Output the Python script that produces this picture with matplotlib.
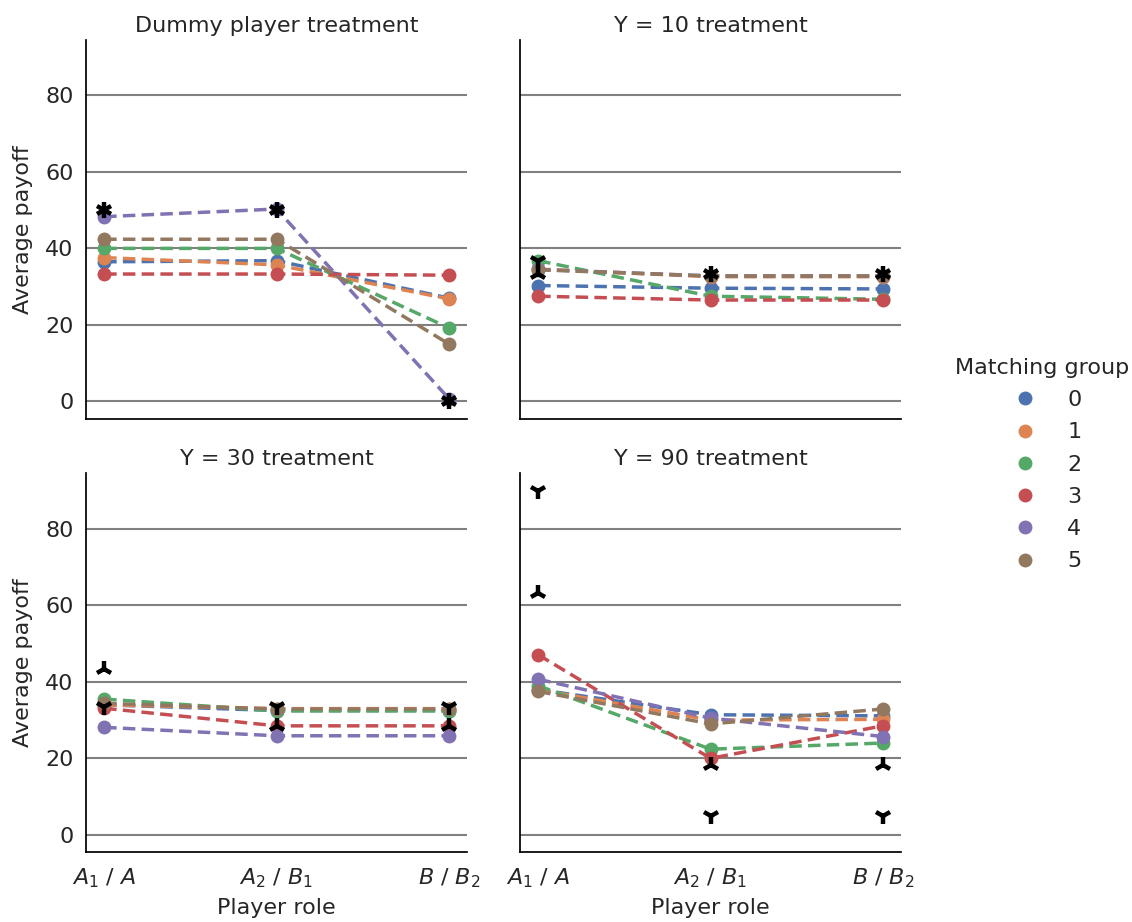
import numpy as np
import matplotlib
matplotlib.use("Agg")
from matplotlib import pyplot as plt
from matplotlib.lines import Line2D

roles = ['$A_1$ / $A$', '$A_2$ / $B_1$', '$B$ / $B_2$']
treatments = ['Dummy player treatment', 'Y = 10 treatment',
              'Y = 30 treatment', 'Y = 90 treatment']
groups = ['0', '1', '2', '3', '4', '5']
colors = ['#4C72B0', '#DD8452', '#55A868', '#C44E52', '#8172B3', '#937860']

# average payoff per matching group (rows) and player role (cols)
payoff_dummy = [
    [36.5, 36.8, 27.0],
    [37.6, 35.7, 26.8],
    [40.0, 40.0, 19.2],
    [33.3, 33.3, 33.0],
    [48.3, 50.3, 0.7],
    [42.4, 42.4, 15.0],
]
payoff_y10 = [
    [30.3, 29.6, 29.4],
    [34.6, 32.6, 32.6],
    [36.8, 27.5, 26.7],
    [27.5, 26.5, 26.5],
    [34.5, 32.8, 32.8],
    [34.4, 32.8, 32.8],
]
payoff_y30 = [
    [34.0, 32.5, 32.5],
    [34.0, 33.0, 33.0],
    [35.5, 32.4, 32.4],
    [33.1, 28.5, 28.5],
    [28.1, 25.9, 25.9],
    [34.4, 32.9, 32.9],
]
payoff_y90 = [
    [38.0, 31.4, 31.1],
    [38.0, 30.0, 30.2],
    [39.0, 22.4, 24.0],
    [47.1, 20.0, 28.5],
    [40.7, 30.5, 25.7],
    [37.5, 29.0, 32.9],
]
payoffs = [payoff_dummy, payoff_y10, payoff_y30, payoff_y90]

# theoretical predictions
pred_down = [[50, 50, 0], [36.67, 33.33, 33.33], [33.33, 33.33, 33.33], [90, 5, 5]]
pred_up = [[50, 50, 0], [33.33, 33.33, 33.33], [43.33, 28.33, 28.33], [63.33, 18.33, 18.33]]

text_col = '#262626'
fs = 16
plt.rcParams['font.family'] = 'DejaVu Sans'
plt.rcParams['font.size'] = fs

fig, axes = plt.subplots(2, 2, figsize=(11.32, 9.22), dpi=100, sharex=True, sharey=True)
fig.subplots_adjust(left=0.076, right=0.796, top=0.9566, bottom=0.0759,
                    wspace=0.139, hspace=0.145)

x = np.arange(len(roles))
for k, ax in enumerate(axes.flat):
    for yv in [0, 20, 40, 60, 80]:
        ax.axhline(yv, color='gray', lw=1.5, zorder=0)
    for g, col in enumerate(colors):
        ax.plot(x, payoffs[k][g], color=col, ls='--', lw=2.5, dashes=(3.6, 1.8),
                marker='o', ms=9, zorder=3)
    ax.plot(x, pred_down[k], ls='none', marker='1', ms=12, mew=3.2, color='black', zorder=4)
    ax.plot(x, pred_up[k], ls='none', marker='2', ms=12, mew=3.2, color='black', zorder=4)
    ax.set_title(treatments[k], color=text_col, fontsize=fs)
    ax.set_xlim(-0.105, 2.105)
    ax.set_ylim(-4.5, 94.5)
    ax.set_yticks([0, 20, 40, 60, 80])
    ax.set_xticks(x)
    ax.set_xticklabels(roles)
    ax.tick_params(length=0, labelsize=fs, colors=text_col, pad=9)
    ax.tick_params(axis='x', pad=10)
    for s in ['top', 'right']:
        ax.spines[s].set_visible(False)
    for s in ['left', 'bottom']:
        ax.spines[s].set_linewidth(1.25)
        ax.spines[s].set_color('black')

for ax in axes[:, 0]:
    ax.set_ylabel('Average payoff', color=text_col, fontsize=fs, labelpad=9)
for ax in axes[1, :]:
    ax.set_xlabel('Player role', color=text_col, fontsize=fs, labelpad=6)
for ax in axes[0, :]:
    ax.tick_params(labelbottom=False)

handles = [Line2D([], [], ls='none', marker='o', ms=9, color=c) for c in colors]
leg = fig.legend(handles, groups, title='Matching group', loc='center left',
                 bbox_to_anchor=(0.826, 0.496), frameon=False, fontsize=fs,
                 title_fontsize=fs, labelspacing=0.55, handletextpad=0.9)
for t in leg.get_texts():
    t.set_color(text_col)
leg.get_title().set_color(text_col)

fig.savefig('out.png', dpi=100)
